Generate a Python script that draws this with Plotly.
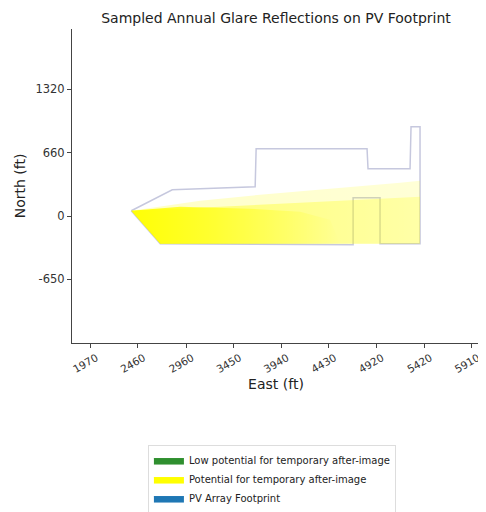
import plotly.graph_objects as go

# ---- data (feet) ----
title_text = "Sampled Annual Glare Reflections on PV Footprint"
x_tick_vals = [1970, 2460, 2960, 3450, 3940, 4430, 4920, 5420, 5910]
x_tick_text = ["1970", "2460", "2960", "3450", "3940", "4430", "4920", "5420", "5910"]
y_tick_vals = [1320, 660, 0, -650]
y_tick_text = ["1320", "660", "0", "-650"]

# PV array footprint outline
footprint_x = [2393, 2816, 3672, 3682, 4827, 4837, 5271, 5281, 5374, 5374,
               4961, 4961, 4683, 4683, 2692, 2393]
footprint_y = [59, 277, 308, 702, 702, 495, 495, 930, 930, -283,
               -283, 194, 194, -294, -283, 59]

# glare reflection region (sampled points envelope), light / medium / dense
glare_outer_x = [2393, 3105, 3723, 4445, 5168, 5374, 5374, 2692, 2393]
glare_outer_y = [59, 163, 225, 287, 350, 370, -283, -283, 59]
glare_mid_x = [2393, 3311, 4136, 5168, 5374, 5374, 2692, 2393]
glare_mid_y = [59, 101, 142, 194, 205, -283, -283, 59]
glare_core_x = [2393, 2898, 3620, 4136, 4445, 4549, 2692, 2393]
glare_core_y = [59, 100, 80, 49, -34, -283, -283, 59]

legend_names = ["Low potential for temporary after-image",
                "Potential for temporary after-image",
                "PV Array Footprint"]
legend_colors = ["#2f8f2f", "#ffff00", "#1f77b4"]

x_range = [1781, 5993]
y_range = [-1313, 1944]

fig = go.Figure()

# footprint outline (under glare)
fig.add_trace(go.Scatter(x=footprint_x, y=footprint_y, mode="lines",
                         line=dict(color="#c6c8de", width=1.5),
                         showlegend=False, hoverinfo="skip"))

# glare layers
fig.add_trace(go.Scatter(x=glare_outer_x, y=glare_outer_y, mode="none", fill="toself",
                         fillgradient=dict(type="horizontal",
                                           colorscale=[[0, "rgba(255,255,0,0.22)"],
                                                       [1, "rgba(255,255,0,0.16)"]]),
                         showlegend=False, hoverinfo="skip"))
fig.add_trace(go.Scatter(x=glare_mid_x, y=glare_mid_y, mode="none", fill="toself",
                         fillgradient=dict(type="horizontal",
                                           colorscale=[[0, "rgba(255,255,0,0.45)"],
                                                       [1, "rgba(255,255,0,0.22)"]]),
                         showlegend=False, hoverinfo="skip"))
fig.add_trace(go.Scatter(x=glare_core_x, y=glare_core_y, mode="none", fill="toself",
                         fillgradient=dict(type="horizontal",
                                           colorscale=[[0, "rgba(255,255,0,0.95)"],
                                                       [0.4, "rgba(255,255,0,0.6)"],
                                                       [1, "rgba(255,255,0,0.0)"]]),
                         showlegend=False, hoverinfo="skip"))

# legend entries
for name, col in zip(legend_names, legend_colors):
    fig.add_trace(go.Scatter(x=[None], y=[None], mode="lines", name=name,
                             fill="toself", fillcolor=col,
                             line=dict(color=col, width=1)))

# page body adds an 8px offset; figure is sized to fit the 486x512 window
axis_font = dict(family="DejaVu Sans", size=11.5, color="#333")
x_axis_font = dict(family="DejaVu Sans", size=10.5, color="#333")
fig.update_layout(
    width=478, height=504,
    margin=dict(l=64, r=6, t=21, b=169, autoexpand=False),
    paper_bgcolor="white", plot_bgcolor="white",
    font=dict(family="DejaVu Sans", color="#222"),
    title=dict(text=title_text, x=0.5, xref="paper",
               y=1 - 10 / 504, yref="container", yanchor="middle",
               font=dict(family="DejaVu Sans", size=14, color="#222")),
    showlegend=True,
    legend=dict(x=0.49, xanchor="center", y=-0.325, yanchor="top",
                bordercolor="#dddddd", borderwidth=1, bgcolor="white",
                font=dict(family="DejaVu Sans", size=10, color="#222"),
                traceorder="normal", itemwidth=30, tracegroupgap=0),
)
fig.update_xaxes(range=x_range, tickvals=x_tick_vals, ticktext=x_tick_text,
                 tickangle=-30, ticks="outside", ticklen=4, tickcolor="#444",
                 showline=True, linecolor="#444", linewidth=1, mirror=False,
                 showgrid=False, zeroline=False, tickfont=x_axis_font, automargin=False,
                 ticklabelshift=6, ticklabelstandoff=0,
                 title=dict(text="East (ft)", font=dict(family="DejaVu Sans", size=14, color="#222"),
                            standoff=5))
fig.update_yaxes(range=y_range, tickvals=y_tick_vals, ticktext=y_tick_text,
                 ticks="outside", ticklen=4, tickcolor="#444",
                 showline=True, linecolor="#444", linewidth=1, mirror=False,
                 showgrid=False, zeroline=False, tickfont=axis_font, automargin=False,
                 title=dict(text="North (ft)", font=dict(family="DejaVu Sans", size=14, color="#222"),
                            standoff=6))

fig.write_html("out.html")
